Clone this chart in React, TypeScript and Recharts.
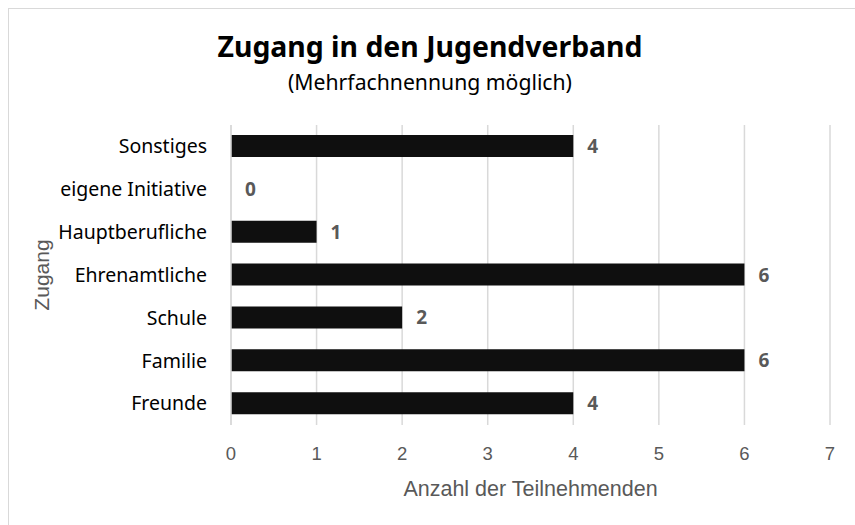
import React from 'react';
import { BarChart, Bar, XAxis, YAxis, CartesianGrid, LabelList } from 'recharts';

// categories top to bottom, as in the reference
const categories = ['Sonstiges', 'eigene Initiative', 'Hauptberufliche', 'Ehrenamtliche', 'Schule', 'Familie', 'Freunde'];
const counts = [4, 0, 1, 6, 2, 6, 4];
const xTicks = [0, 1, 2, 3, 4, 5, 6, 7];

const data = categories.map((name, i) => ({ name, count: counts[i] }));

const FONT = '"Noto Sans", "Liberation Sans", sans-serif';
const AXIS_FONT = '"Liberation Sans", Arial, sans-serif';
const GRID = '#d9d9d9';
const GREY = '#595959';

// value label drawn after the bar end, also for zero-width bars
const ValueLabel = (props: any) => {
  const { x, y, width, height, value } = props;
  return (
    <text
      x={Number(x) + Number(width || 0) + 14}
      y={Number(y) + Number(height) / 2}
      dominantBaseline="central"
      fill={GREY}
      fontSize={19}
      fontWeight={700}
      fontFamily={FONT}
    >
      {value}
    </text>
  );
};

export default function App() {
  return (
    <div style={{ position: 'fixed', left: 0, top: 0, width: 855, height: 525, background: '#fff', fontFamily: FONT }}>
      {/* chart frame, only top and left edges are in view */}
      <div style={{ position: 'absolute', left: 8, top: 8, width: 900, height: 600, borderTop: `1.5px solid ${GRID}`, borderLeft: `1.5px solid ${GRID}` }} />
      <div style={{ position: 'absolute', left: 0, width: 860, top: 27, textAlign: 'center', fontSize: 28.4, fontWeight: 700, color: '#000', lineHeight: '38px' }}>
        Zugang in den Jugendverband
      </div>
      <div style={{ position: 'absolute', left: 0, width: 860, top: 67, textAlign: 'center', fontSize: 21.2, color: '#000', lineHeight: '30px' }}>
        (Mehrfachnennung möglich)
      </div>
      <div style={{ position: 'absolute', left: 0, top: 0 }}>
        <BarChart
          width={855}
          height={525}
          data={data}
          layout="vertical"
          margin={{ top: 125, right: 25, bottom: 70, left: 51 }}
          barSize={22}
        >
          <CartesianGrid horizontal={false} stroke={GRID} strokeWidth={1.5} />
          <XAxis
            type="number"
            domain={[0, 7]}
            ticks={xTicks}
            interval={0}
            height={30}
            axisLine={false}
            tickLine={false}
            tickMargin={16}
            tick={{ fill: GREY, fontSize: 18.5, fontFamily: AXIS_FONT }}
            label={{ value: 'Anzahl der Teilnehmenden', position: 'bottom', offset: 26, fill: GREY, fontSize: 21.5, fontFamily: AXIS_FONT }}
          />
          <YAxis
            type="category"
            dataKey="name"
            width={180}
            axisLine={{ stroke: GRID, strokeWidth: 1.5 }}
            tickLine={false}
            tickMargin={18}
            interval={0}
            tick={{ fill: '#000', fontSize: 19.5, fontFamily: FONT }}
            label={{ value: 'Zugang', angle: -90, position: 'insideLeft', offset: -9, fill: GREY, fontSize: 21, fontFamily: AXIS_FONT, style: { textAnchor: 'middle' } }}
          />
          <Bar dataKey="count" fill="#0f0f0f" minPointSize={0.01} isAnimationActive={false}>
            <LabelList dataKey="count" content={ValueLabel} />
          </Bar>
        </BarChart>
      </div>
    </div>
  );
}
